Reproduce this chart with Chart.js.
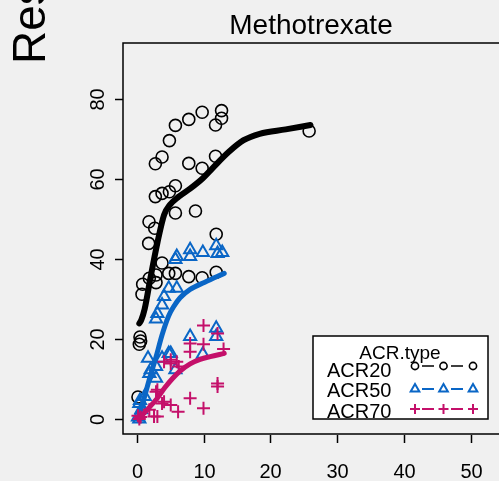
<!DOCTYPE html>
<html>
<head>
<meta charset="utf-8">
<script src="https://cdn.jsdelivr.net/npm/chart.js@4.4.1/dist/chart.umd.min.js"></script>
<style>
  html, body { margin: 0; padding: 0; background: #f0f0f0; overflow: hidden; }
  canvas { display: block; }
</style>
</head>
<body>
<canvas id="acrChart" width="499" height="481"></canvas>
<script>
// Labels
const panelTitle = 'Methotrexate';
const yTitle = 'Response';
const legendTitle = 'ACR.type';
const seriesNames = ['ACR20', 'ACR50', 'ACR70'];
const xTicks = [0, 10, 20, 30, 40, 50];
const yTicks = [0, 20, 40, 60, 80];

// ACR20 observations (circles)
const acr20X = [0.2, 0.4, 0.6, 0.5, 0.8, 0.9, 1.9, 1.8, 1.85, 2.7, 2.9, 2.9, 2.8, 2.8, 3.8, 3.8, 3.8,
    4.8, 4.9, 4.9, 5.8, 5.8, 5.8, 5.8, 7.8, 7.8, 7.8, 8.8, 9.8, 9.8, 9.8, 11.8, 11.8, 11.9, 11.9, 12.7, 12.7, 25.8];
const acr20Y = [5.5, 18.7, 19.5, 20.5, 31.2, 33.7, 35.2, 43.9, 49.3, 47.7, 34.1, 36.0, 55.6, 63.8, 39.0, 56.4, 65.5,
    36.4, 56.8, 69.6, 36.4, 51.5, 58.3, 73.4, 35.6, 63.9, 74.9, 52.0, 35.3, 62.7, 76.7, 65.7, 73.5, 36.7, 46.2, 75.2, 77.1, 72.0];

// ACR50 observations (triangles)
const acr50X = [0.2, 0.4, 0.7, 0.4, 1.2, 0.5, 1.7, 1.9, 2.1, 2.9, 2.9, 2.9, 3.1, 3.8, 3.8, 4.1, 4.8, 4.8,
    5.1, 5.8, 6.0, 5.8, 6.0, 8.0, 8.0, 8.0, 9.9, 9.9, 11.9, 11.9, 11.9, 12.1, 12.8];
const acr50Y = [0.5, 0.0, 2.3, 3.9, 5.6, 4.6, 15.2, 11.4, 12.3, 10.2, 13.1, 25.0, 26.4, 15.2, 28.5, 30.6, 16.4, 32.7,
    16.4, 12.3, 32.7, 39.9, 40.6, 20.6, 40.6, 42.3, 16.2, 41.6, 20.6, 22.7, 43.3, 41.4, 41.6];

// ACR70 observations (plus signs)
const acr70X = [0.4, 0.2, 0.6, 1.9, 2.6, 3.1, 2.9, 3.1, 3.8, 4.1, 4.1, 5.1, 5.1, 5.1, 6.0, 6.3, 6.2,
    8.0, 8.0, 8.0, 10.0, 10.0, 10.0, 12.1, 12.1, 12.1, 13.0];
const acr70Y = [0.0, 0.8, 0.5, 2.3, 0.6, 0.6, 6.8, 7.3, 3.9, 4.3, 14.3, 3.5, 14.8, 13.9, 14.3, 13.1, 1.8,
    5.2, 16.8, 18.9, 2.7, 18.7, 23.4, 8.1, 8.9, 21.4, 17.5];

// Smoothed trend lines
const fit20X = [0.4, 0.7, 1.2, 2.1, 3.1, 4.1, 5.0, 6.3, 8.0, 9.9, 11.4, 13.8, 16.0, 18.4, 22.3, 26.0];
const fit20Y = [23.9, 24.8, 27.5, 35.6, 44.0, 51.0, 53.6, 55.6, 57.6, 60.2, 62.8, 66.8, 69.7, 71.3, 72.4, 73.5];
const fit50X = [0.2, 1.0, 2.0, 2.9, 3.8, 4.8, 5.5, 6.5, 8.0, 10.2, 13.1];
const fit50Y = [0.0, 4.5, 10.5, 15.5, 21.0, 25.8, 28.0, 30.3, 32.4, 34.2, 36.4];
const fit70X = [0.3, 1.5, 3.0, 4.2, 5.4, 6.5, 8.0, 9.5, 11.0, 13.1];
const fit70Y = [0.0, 2.2, 5.0, 7.8, 10.2, 12.0, 13.8, 14.9, 15.6, 16.4];

const colors = {
    acr20: '#000000',
    acr50: '#0a66c6',
    acr70: '#c4106a',
    bg: '#f0f0f0'
};

const font = "'Liberation Sans', Arial, sans-serif";

const toPoints = (xs, ys) => xs.map((x, i) => ({ x: x, y: ys[i] }));

function pointSet(label, xs, ys, color, style, radius, order) {
    return {
        label: label,
        data: toPoints(xs, ys),
        showLine: false,
        pointStyle: style,
        pointRadius: radius,
        pointBorderWidth: style === 'circle' ? 1.6 : 2,
        pointBorderColor: color,
        pointBackgroundColor: 'rgba(0,0,0,0)',
        order: order
    };
}

function fitLine(label, xs, ys, color, width, order) {
    return {
        label: label,
        data: toPoints(xs, ys),
        showLine: true,
        borderColor: color,
        borderWidth: width,
        borderCapStyle: 'round',
        borderJoinStyle: 'round',
        cubicInterpolationMode: 'monotone',
        pointRadius: 0,
        fill: false,
        order: order
    };
}

// Panel decoration: box, ticks, labels, strip title, key
const lattice = {
    id: 'lattice',
    beforeDraw(chart) {
        const c = chart.ctx;
        c.save();
        c.fillStyle = colors.bg;
        c.fillRect(0, 0, chart.width, chart.height);
        c.restore();
    },
    afterDraw(chart) {
        const c = chart.ctx;
        const a = chart.chartArea;
        const xs = chart.scales.x;
        const ys = chart.scales.y;
        c.save();

        // panel border (right side falls outside the picture)
        c.strokeStyle = '#000';
        c.lineWidth = 1.5;
        c.beginPath();
        c.moveTo(chart.width, a.top);
        c.lineTo(a.left, a.top);
        c.lineTo(a.left, a.bottom);
        c.lineTo(chart.width, a.bottom);
        c.stroke();

        // x ticks
        c.fillStyle = '#000';
        c.font = '20px ' + font;
        c.textAlign = 'center';
        c.textBaseline = 'alphabetic';
        xTicks.forEach(t => {
            const px = Math.round(xs.getPixelForValue(t)) + 0.5;
            c.beginPath();
            c.moveTo(px, a.bottom + 1);
            c.lineTo(px, a.bottom + 9);
            c.stroke();
            c.fillText(String(t), px, 478);
        });

        // y ticks, labels turned sideways
        yTicks.forEach(t => {
            const py = Math.round(ys.getPixelForValue(t)) + 0.5;
            c.beginPath();
            c.moveTo(a.left - 8, py);
            c.lineTo(a.left, py);
            c.stroke();
            c.save();
            c.translate(103.5, py);
            c.rotate(-Math.PI / 2);
            c.fillText(String(t), 0, 0);
            c.restore();
        });

        // strip title
        c.font = '28px ' + font;
        c.fillText(panelTitle, 311, 34);

        // y axis title
        c.save();
        c.font = '46px ' + font;
        c.textAlign = 'left';
        c.translate(45, 64);
        c.rotate(-Math.PI / 2);
        c.fillText(yTitle, 0, 0);
        c.restore();

        // key
        const box = { l: 313, t: 336, r: 488, b: 419 };
        c.fillStyle = '#ffffff';
        c.fillRect(box.l, box.t, box.r - box.l, box.b - box.t);
        c.save();
        c.beginPath();
        c.rect(box.l, box.t, box.r - box.l, box.b - box.t);
        c.clip();
        c.fillStyle = '#000';
        c.font = '19px ' + font;
        c.textAlign = 'center';
        c.fillText(legendTitle, 400, 359);
        c.font = '20px ' + font;
        c.textAlign = 'left';
        const keyColors = [colors.acr20, colors.acr50, colors.acr70];
        const keyStyles = ['circle', 'triangle', 'cross'];
        const keyRadius = [3.6, 5, 5];
        const textBase = [377, 397, 418];
        const symY = [366, 389, 409];
        const symX = [415, 443.5, 473];
        seriesNames.forEach((name, i) => {
            c.fillStyle = '#000';
            c.fillText(name, 327, textBase[i]);
            c.strokeStyle = keyColors[i];
            c.lineWidth = i === 0 ? 1.6 : 2;
            c.beginPath();
            c.moveTo(422, symY[i]);
            c.lineTo(434, symY[i]);
            c.moveTo(451, symY[i]);
            c.lineTo(463, symY[i]);
            c.stroke();
            c.fillStyle = 'rgba(0,0,0,0)';
            symX.forEach(sx => {
                Chart.helpers.drawPoint(c, {
                    pointStyle: keyStyles[i],
                    radius: keyRadius[i],
                    rotation: 0,
                    borderWidth: c.lineWidth
                }, sx, symY[i]);
            });
        });
        c.restore();
        c.strokeStyle = '#000';
        c.lineWidth = 1.5;
        c.strokeRect(box.l, box.t, box.r - box.l, box.b - box.t);

        c.restore();
    }
};

const ctx = document.getElementById('acrChart').getContext('2d');
new Chart(ctx, {
    type: 'scatter',
    data: {
        datasets: [
            fitLine('ACR70 fit', fit70X, fit70Y, colors.acr70, 5, 0),
            pointSet('ACR70', acr70X, acr70Y, colors.acr70, 'cross', 6.5, 1),
            fitLine('ACR50 fit', fit50X, fit50Y, colors.acr50, 5, 2),
            pointSet('ACR50', acr50X, acr50Y, colors.acr50, 'triangle', 7, 3),
            fitLine('ACR20 fit', fit20X, fit20Y, colors.acr20, 6, 4),
            pointSet('ACR20', acr20X, acr20Y, colors.acr20, 'circle', 6, 5)
        ]
    },
    options: {
        responsive: false,
        animation: false,
        events: [],
        layout: {
            padding: { left: 123, top: 43, right: 0, bottom: 47 }
        },
        scales: {
            x: { type: 'linear', display: false, min: -2.04, max: 52.85 },
            y: { type: 'linear', display: false, min: -3.75, max: 94 }
        },
        plugins: {
            legend: { display: false },
            tooltip: { enabled: false }
        }
    },
    plugins: [lattice]
});
</script>
</body>
</html>
